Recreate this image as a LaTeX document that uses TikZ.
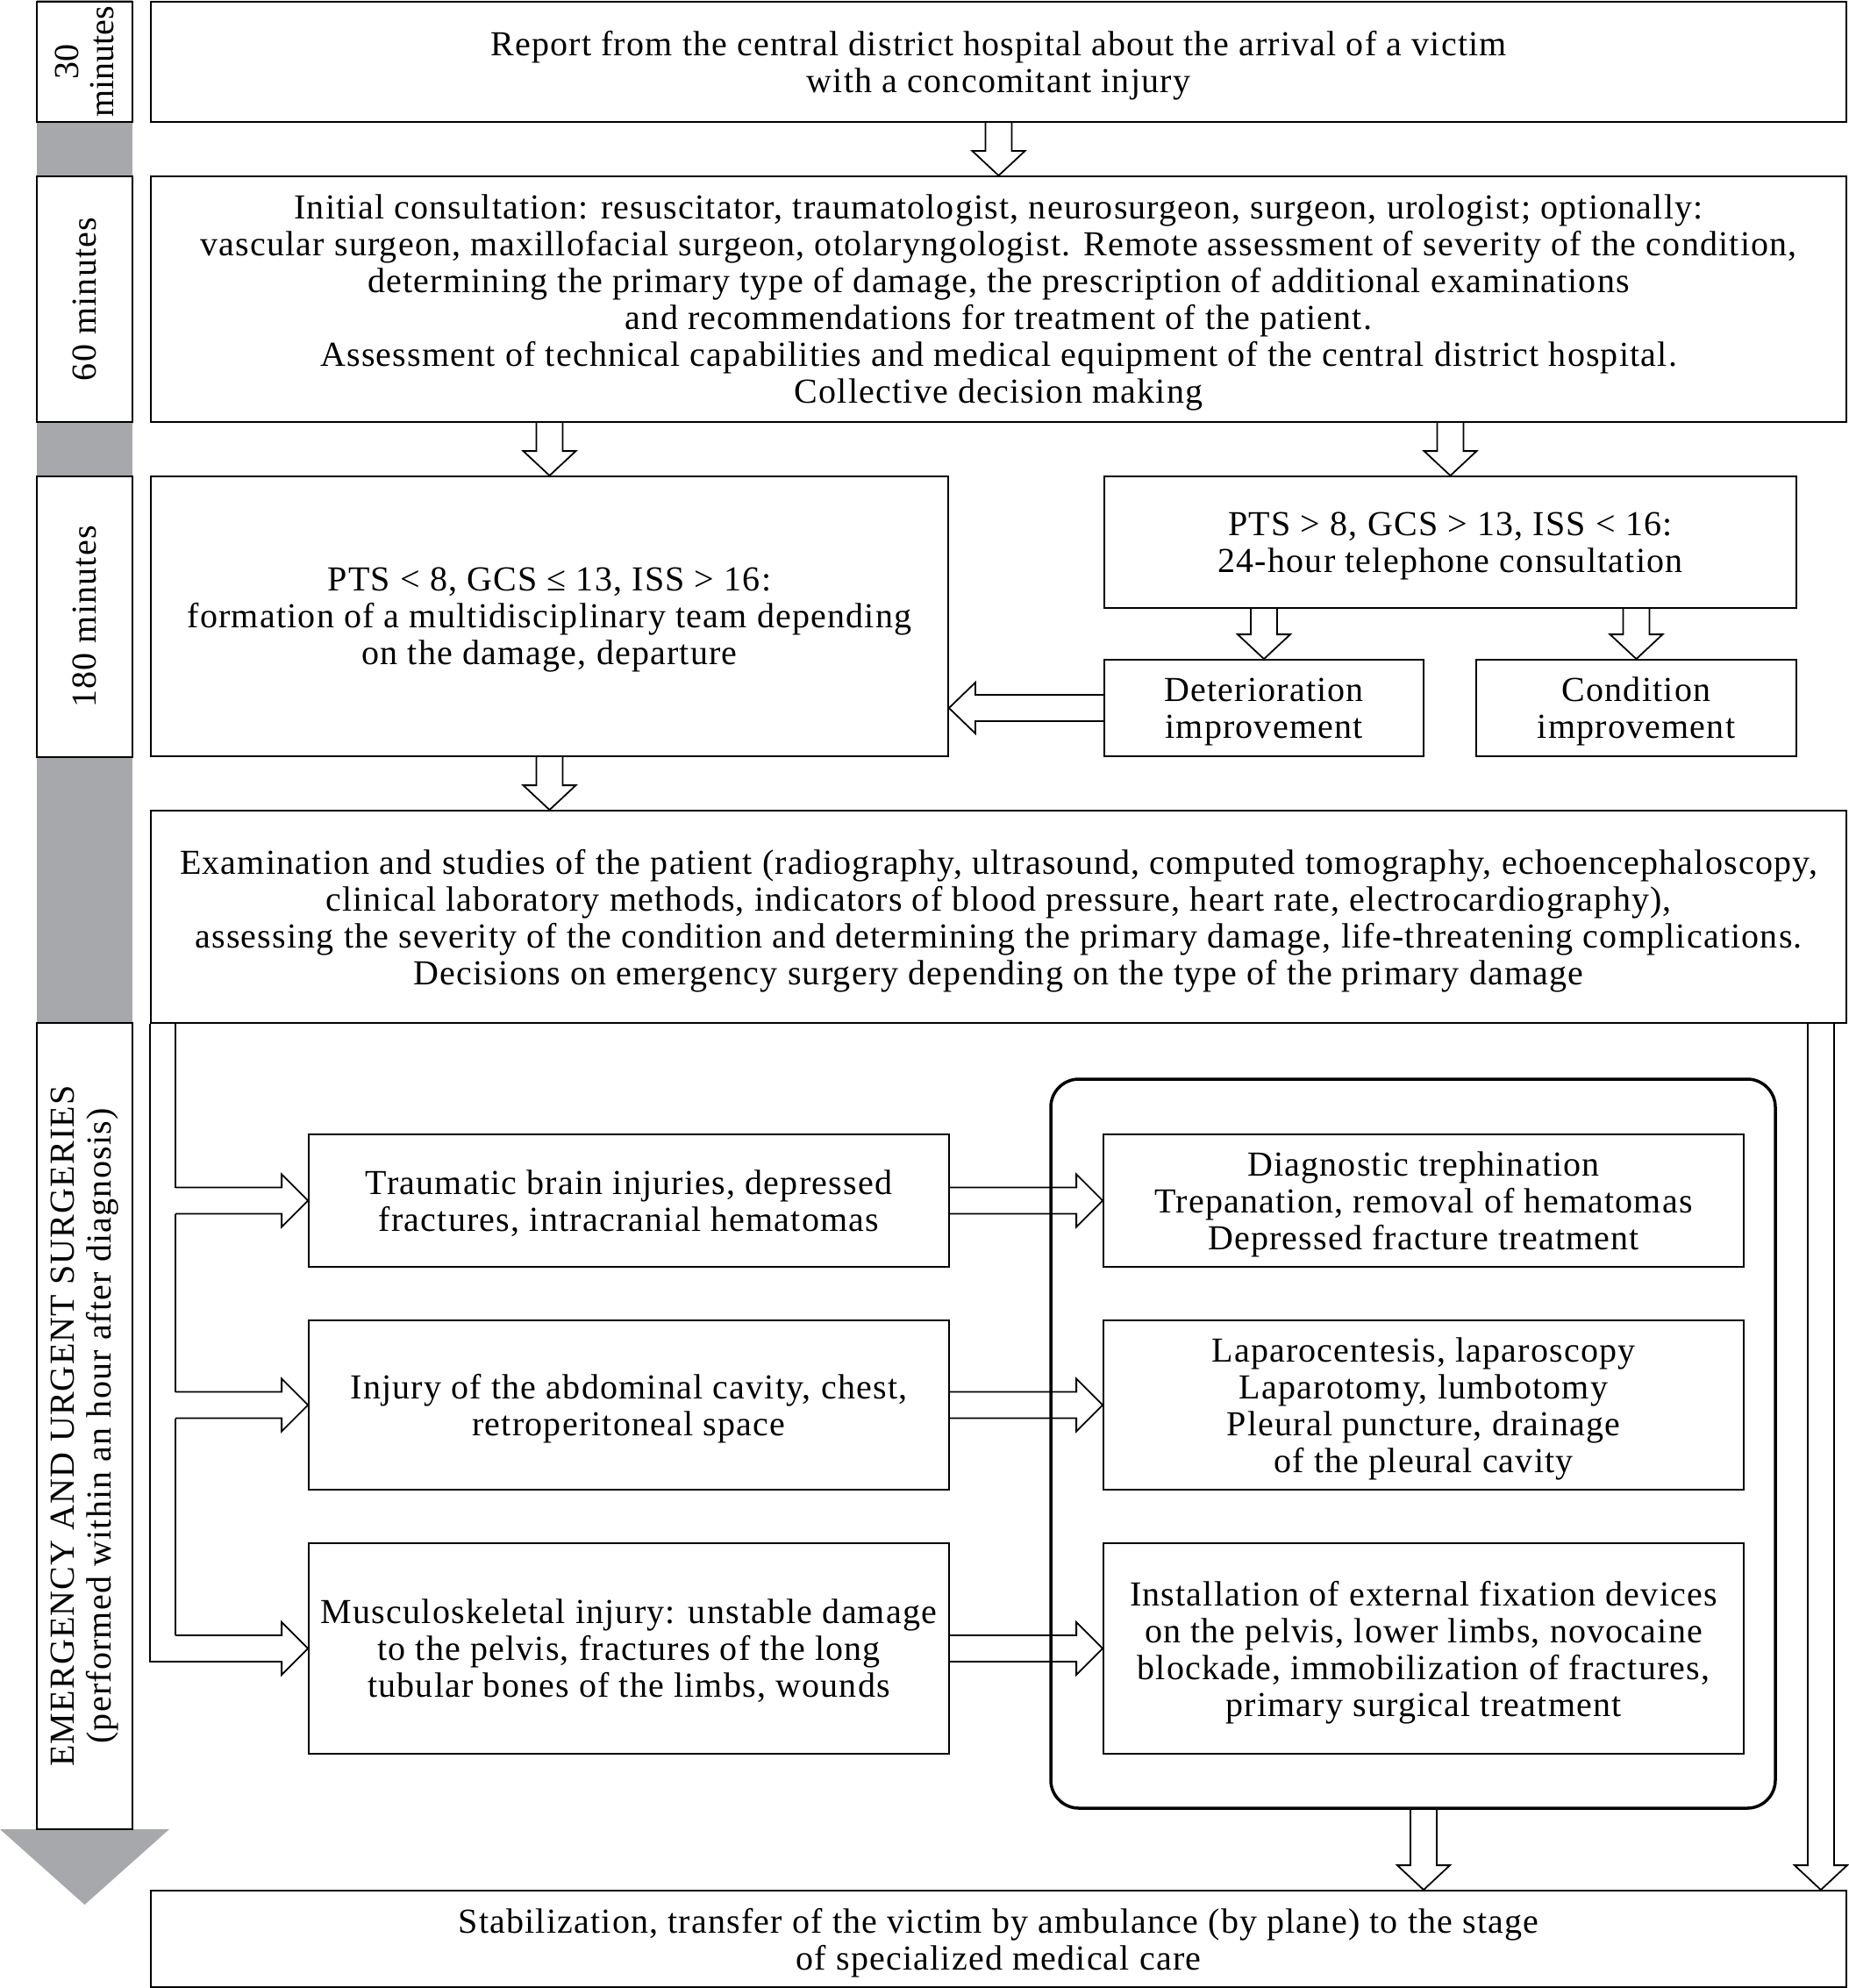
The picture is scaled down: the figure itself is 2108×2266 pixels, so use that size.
\documentclass[tikz,border=0pt]{standalone}
\usepackage{fontspec}
\setmainfont{Liberation Serif}[LetterSpace=3]
\usepackage{tikz}
\usetikzlibrary{calc}
\definecolor{bargrey}{RGB}{167,168,172}
\tikzstyle{block} = [rectangle, draw=black, line width=1.8pt, align=center, inner sep=0pt, text depth=0pt]
\tikzstyle{timebox} = [rectangle, draw=black, fill=white, line width=1.8pt, align=center, inner sep=0pt, rotate=90, minimum height=109pt]
\tikzstyle{frame} = [rectangle, draw=black, line width=3.5pt, rounded corners=32pt]
\tikzstyle{link} = [line width=1.8pt]
\tikzstyle{fatdown} = [line width=1.8pt, to path={let \p1=(\tikztostart), \p2=(\tikztotarget) in (\x1-15pt,\y1) -- (\x1-15pt,\y2+28pt) -- (\x1-30pt,\y2+28pt) -- (\x1,\y2) -- (\x1+30pt,\y2+28pt) -- (\x1+15pt,\y2+28pt) -- (\x1+15pt,\y1)}]
\tikzstyle{fatright} = [line width=1.8pt, to path={let \p1=(\tikztostart), \p2=(\tikztotarget) in (\x1,\y1+15pt) -- (\x2-30pt,\y1+15pt) -- (\x2-30pt,\y1+30pt) -- (\x2,\y1) -- (\x2-30pt,\y1-30pt) -- (\x2-30pt,\y1-15pt) -- (\x1,\y1-15pt)}]
\tikzstyle{fatleft} = [line width=1.8pt, to path={let \p1=(\tikztostart), \p2=(\tikztotarget) in (\x1,\y1+15pt) -- (\x2+30pt,\y1+15pt) -- (\x2+30pt,\y1+29pt) -- (\x2,\y1) -- (\x2+30pt,\y1-29pt) -- (\x2+30pt,\y1-15pt) -- (\x1,\y1-15pt)}]

\begin{document}
\begin{tikzpicture}[x=1pt, y=-1pt, font=\fontsize{40}{42}\selectfont]
\useasboundingbox (0,0) rectangle (2108,2266);

% time scale
\fill [bargrey] (42,0) rectangle (151,2085);
\fill [bargrey] (0,2085) -- (193,2085) -- (96.5,2171) -- cycle;
\node (t30) [timebox, minimum width=137pt, font=\fontsize{40}{40}\selectfont\addfontfeature{LetterSpace=0}] at (96.5,70.5) {30\\minutes};
\node (t60) [timebox, minimum width=280pt] at (96.5,341) {60 minutes};
\node (t180) [timebox, minimum width=320pt] at (96.5,703) {180 minutes};
\node (tem) [timebox, minimum width=919pt] at (96.5,1625.5) {EMERGENCY AND URGENT SURGERIES\\(performed within an hour after diagnosis)};

% main chain
\node (rep) [block, minimum width=1933pt, minimum height=137pt] at (1138.5,70.5) {Report from the central district hospital about the arrival of a victim\\with a concomitant injury};
\node (con) [block, minimum width=1933pt, minimum height=280pt] at (1138.5,341) {Initial consultation: resuscitator, traumatologist, neurosurgeon, surgeon, urologist; optionally:\\vascular surgeon, maxillofacial surgeon, otolaryngologist. Remote assessment of severity of the condition,\\determining the primary type of damage, the prescription of additional examinations\\and recommendations for treatment of the patient.\\Assessment of technical capabilities and medical equipment of the central district hospital.\\Collective decision making};
\node (lo) [block, minimum width=909pt, minimum height=319pt] at (626.5,702.5) {PTS < 8, GCS ≤ 13, ISS > 16:\\formation of a multidisciplinary team depending\\on the damage, departure};
\node (hi) [block, minimum width=789pt, minimum height=150pt] at (1653.5,618) {PTS > 8, GCS > 13, ISS < 16:\\24-hour telephone consultation};
\node (det) [block, minimum width=364pt, minimum height=110pt] at (1441,807) {Deterioration\\improvement};
\node (imp) [block, minimum width=365pt, minimum height=110pt] at (1865.5,807) {Condition\\improvement};
\node (ex) [block, minimum width=1933pt, minimum height=242pt] at (1138.5,1045) {Examination and studies of the patient (radiography, ultrasound, computed tomography, echoencephaloscopy,\\clinical laboratory methods, indicators of blood pressure, heart rate, electrocardiography),\\assessing the severity of the condition and determining the primary damage, life-threatening complications.\\Decisions on emergency surgery depending on the type of the primary damage};

% surgeries
\node (surg) [frame, minimum width=826pt, minimum height=831pt] at (1611,1645.5) {};
\node (tbi) [block, minimum width=730pt, minimum height=151pt] at (717,1368.5) {Traumatic brain injuries, depressed\\fractures, intracranial hematomas};
\node (abd) [block, minimum width=730pt, minimum height=193pt] at (717,1601.5) {Injury of the abdominal cavity, chest,\\retroperitoneal space};
\node (msk) [block, minimum width=730pt, minimum height=240pt] at (717,1879) {Musculoskeletal injury: unstable damage\\to the pelvis, fractures of the long\\tubular bones of the limbs, wounds};
\node (trp) [block, minimum width=730pt, minimum height=151pt] at (1623,1368.5) {Diagnostic trephination\\Trepanation, removal of hematomas\\Depressed fracture treatment};
\node (lap) [block, minimum width=730pt, minimum height=193pt] at (1623,1601.5) {Laparocentesis, laparoscopy\\Laparotomy, lumbotomy\\Pleural puncture, drainage\\of the pleural cavity};
\node (fix) [block, minimum width=730pt, minimum height=240pt] at (1623,1879) {Installation of external fixation devices\\on the pelvis, lower limbs, novocaine\\blockade, immobilization of fractures,\\primary surgical treatment};
\node (fin) [block, minimum width=1933pt, minimum height=110pt] at (1138.5,2210) {Stabilization, transfer of the victim by ambulance (by plane) to the stage\\of specialized medical care};

% arrows
\draw [fatdown] (rep.south) to (con.north);
\draw [fatdown] (con.south -| lo.north) to (lo.north);
\draw [fatdown] (con.south -| hi.north) to (hi.north);
\draw [fatdown] (hi.south -| det.north) to (det.north);
\draw [fatdown] (hi.south -| imp.north) to (imp.north);
\draw [fatleft] (det.west) to (det.west -| lo.east);
\draw [fatdown] (lo.south) to (lo.south |- ex.north);
\draw [fatright] (tbi.east) to (trp.west);
\draw [fatright] (abd.east) to (lap.west);
\draw [fatright] (msk.east) to (fix.west);
\draw [fatdown] (surg.south -| fix.south) to (fin.north -| fix.south);
\coordinate (rim) at ([xshift=-30pt]ex.south east);
\draw [fatdown] (rim) to (rim |- fin.north);

% fork to the injuries
\coordinate (fk) at ([xshift=29pt]ex.south west);
\draw [link] (fk) -- ($(fk |- tbi.west)+(0pt,15pt)$);
\draw [fatright] (fk |- tbi.west) to (tbi.west);
\draw [link] ($(fk |- tbi.west)-(0pt,15pt)$) -- ($(fk |- abd.west)+(0pt,15pt)$);
\draw [fatright] (fk |- abd.west) to (abd.west);
\draw [link] ($(fk |- abd.west)-(0pt,15pt)$) -- ($(fk |- msk.west)+(0pt,15pt)$);
\draw [fatright] (fk |- msk.west) to (msk.west);
\draw [link] (ex.south west) |- ($(fk |- msk.west)-(0pt,15pt)$);
\end{tikzpicture}
\end{document}
